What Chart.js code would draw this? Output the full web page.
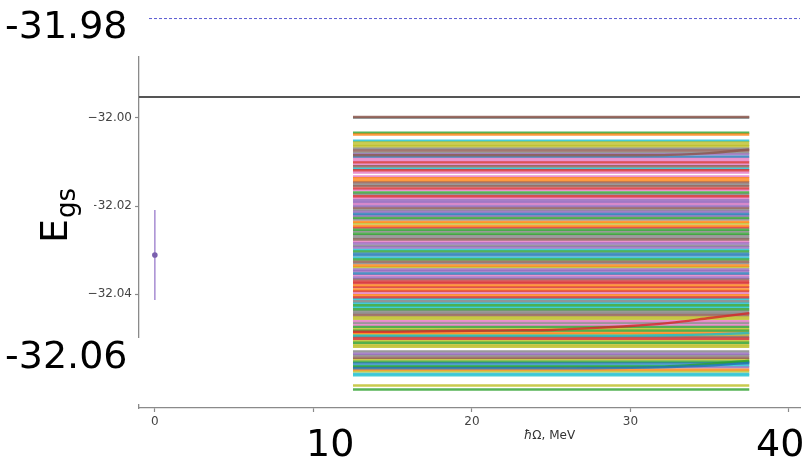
<!DOCTYPE html>
<html>
<head>
<meta charset="utf-8">
<style>
  html, body { margin: 0; padding: 0; background: #ffffff; }
  canvas { display: block; }
</style>
<script src="https://cdn.jsdelivr.net/npm/chart.js@4.4.0/dist/chart.umd.min.js"></script>
</head>
<body>
<canvas id="egs" width="804" height="463"></canvas>
<script>
// Oscillator energies (MeV) at which the ground-state energy was computed
const hbarOmega = [12.5, 15, 17.5, 20, 22.5, 25, 27.5, 30, 32.5, 35, 37.5];

// Converged E_gs values (MeV), grouped by the colour slot each curve was drawn in
const levelsC0 = [-32.0088, -32.0218, -32.0308, -32.0312, -32.0353, -32.0557];
const levelsC1 = [-32.0038, -32.0137, -32.0142, -32.0236, -32.0245, -32.0335, -32.0380, -32.0389, -32.0402, -32.0488, -32.0571];
const levelsC2 = [-32.0034, -32.0169, -32.0227, -32.0254, -32.0263, -32.0303, -32.0321, -32.0425, -32.0434, -32.0474, -32.0483, -32.0510, -32.0553, -32.0616];
const levelsC3 = [-32.0101, -32.0119, -32.0160, -32.0178, -32.0249, -32.0371, -32.0375, -32.0384, -32.0393, -32.0407, -32.0501];
const levelsC4 = [-32.0083, -32.0187, -32.0191, -32.0200, -32.0213, -32.0222, -32.0285, -32.0294, -32.0344, -32.0348, -32.0362, -32.0535, -32.0566];
const levelsC5 = [-31.9998, -32.0074, -32.0110, -32.0146, -32.0155, -32.0204, -32.0276, -32.0326, -32.0366, -32.0447, -32.0497, -32.0544];
const levelsC6 = [-32.0092, -32.0097, -32.0106, -32.0124, -32.0133, -32.0164, -32.0182, -32.0195, -32.0281, -32.0357, -32.0398, -32.0461, -32.0470];
const levelsC7 = [-32.0000, -32.0070, -32.0079, -32.0151, -32.0173, -32.0209, -32.0231, -32.0258, -32.0267, -32.0272, -32.0290, -32.0330, -32.0416, -32.0438, -32.0443, -32.0465, -32.0530, -32.0539];
const levelsC8 = [-32.0056, -32.0061, -32.0065, -32.0240, -32.0339, -32.0452, -32.0456, -32.0479, -32.0492, -32.0506, -32.0515, -32.0519, -32.0548, -32.0575, -32.0607];
const levelsC9 = [-32.0052, -32.0115, -32.0299, -32.0317, -32.0411, -32.0420, -32.0429, -32.0562, -32.0580, -32.0584];

// Curves that drift at large hbarOmega, one value per hbarOmega entry
const driftC5 = [-32.0085, -32.0085, -32.0085, -32.0085, -32.0085, -32.0085, -32.0085, -32.0085, -32.0084, -32.0080, -32.0072];
const driftC3 = [-32.0485, -32.0485, -32.0484, -32.0483, -32.0482, -32.0481, -32.0477, -32.0472, -32.0465, -32.0454, -32.0443];
const driftC0 = [-32.0568, -32.0568, -32.0568, -32.0568, -32.0568, -32.0568, -32.0568, -32.0567, -32.0565, -32.0562, -32.0555];
const driftC2 = [-32.0564, -32.0564, -32.0564, -32.0564, -32.0564, -32.0564, -32.0564, -32.0564, -32.0563, -32.0558, -32.0551];
const driftC9 = [-32.0494, -32.0494, -32.0494, -32.0494, -32.0494, -32.0494, -32.0494, -32.0494, -32.0493, -32.0491, -32.0488];

// Estimate at hbarOmega = 0 with its uncertainty
const refEnergy = -32.0311;
const refError = 0.0102;

// Horizontal reference energies (MeV)
const limitEnergy = -31.9953;   // solid line
const dashedEnergy = -31.9775;  // dashed line

// Axis ranges and ticks
const xMin = -1.0, xMax = 40.7;
const yMin = -32.0658, yMax = -31.9742;
const xTicks = [0, 10, 20, 30, 40];
const yTicks = [-32.06, -32.04, -32.02, -32.00];

// matplotlib "tab10" colour cycle
const tab10 = ['#1f77b4', '#ff7f0e', '#2ca02c', '#d62728', '#9467bd',
               '#8c564b', '#e377c2', '#7f7f7f', '#bcbd22', '#17becf'];

function withAlpha(hex, a) {
  const n = parseInt(hex.slice(1), 16);
  return `rgba(${(n >> 16) & 255},${(n >> 8) & 255},${n & 255},${a})`;
}

const lineAlpha = 0.8;
const lineWidth = 2.4;
const datasets = [];

// solid and dashed reference lines
datasets.push({
  data: [{ x: xMin, y: limitEnergy }, { x: xMax, y: limitEnergy }],
  showLine: true, borderColor: '#555555', borderWidth: 2, pointRadius: 0
});
datasets.push({
  data: [{ x: xMin, y: dashedEnergy }, { x: xMax, y: dashedEnergy }],
  showLine: true, borderColor: '#5a5ad2', borderWidth: 1, borderDash: [3, 2], pointRadius: 0
});

// error bar and marker at hbarOmega = 0
datasets.push({
  data: [{ x: 0, y: refEnergy }],
  showLine: false, pointRadius: 2.8, pointBackgroundColor: '#7a5fae', pointBorderWidth: 0
});
datasets.push({
  data: [{ x: 0, y: refEnergy - refError }, { x: 0, y: refEnergy + refError }],
  showLine: true, borderColor: '#a78cd2', borderWidth: 1.5, pointRadius: 0
});

// drifting curves
[[driftC5, 5], [driftC3, 3], [driftC0, 0], [driftC2, 2], [driftC9, 9]].forEach(([vals, c]) => {
  datasets.push({
    data: hbarOmega.map((h, i) => ({ x: h, y: vals[i] })),
    showLine: true, tension: 0.3, borderColor: withAlpha(tab10[c], 0.8),
    borderWidth: lineWidth, pointRadius: 0
  });
});

// flat levels across the hbarOmega range
const levelGroups = [levelsC0, levelsC1, levelsC2, levelsC3, levelsC4,
                     levelsC5, levelsC6, levelsC7, levelsC8, levelsC9];
const hFirst = hbarOmega[0], hLast = hbarOmega[hbarOmega.length - 1];
levelGroups.forEach((group, c) => {
  group.forEach(E => {
    datasets.push({
      data: [{ x: hFirst, y: E }, { x: hLast, y: E }],
      showLine: true, borderColor: withAlpha(tab10[c], lineAlpha),
      borderWidth: lineWidth, borderCapStyle: 'butt', pointRadius: 0
    });
  });
});

// large labels laid over the plot on white patches
const slideLabels = {
  id: 'slideLabels',
  afterDraw(chart) {
    const ctx = chart.ctx;
    const xs = chart.scales.x;
    ctx.save();
    ctx.fillStyle = '#ffffff';
    ctx.fillRect(0, 0, 147, 56);
    ctx.fillRect(0, 338, 141, 66);
    ctx.fillRect(22, 182, 72, 72);
    ctx.fillRect(298, 413, 64, 50);
    ctx.fillRect(748, 413, 56, 50);

    ctx.fillStyle = '#000000';
    ctx.textBaseline = 'alphabetic';
    ctx.textAlign = 'left';
    ctx.font = '38px "DejaVu Sans"';
    ctx.fillText('-31.98', 5, 38);
    ctx.fillText('-32.06', 5, 368);
    ctx.fillText('10', 306, 456);
    ctx.fillText('40', 756, 456);

    // x axis title: italic hbar followed by upright text
    ctx.fillStyle = '#333333';
    const hbar = 'ħ';
    const rest = 'Ω, MeV';
    ctx.font = 'italic 12px "DejaVu Sans"';
    const w1 = ctx.measureText(hbar).width;
    ctx.font = '12px "DejaVu Sans"';
    const w2 = ctx.measureText(rest).width;
    const cx = xs.getPixelForValue(24.9);
    const startX = cx - (w1 + w2) / 2;
    ctx.font = 'italic 12px "DejaVu Sans"';
    ctx.fillText(hbar, startX, 439);
    ctx.font = '12px "DejaVu Sans"';
    ctx.fillText(rest, startX + w1, 439);

    // y axis title E_gs, rotated
    ctx.fillStyle = '#000000';
    ctx.translate(67, 243);
    ctx.rotate(-Math.PI / 2);
    ctx.font = '38px "DejaVu Sans"';
    ctx.fillText('E', 0, 0);
    const eW = ctx.measureText('E').width;
    ctx.font = '26px "DejaVu Sans"';
    ctx.fillText('gs', eW + 1, 8);
    ctx.restore();
  }
};

Chart.defaults.font.family = '"DejaVu Sans", sans-serif';

new Chart(document.getElementById('egs'), {
  type: 'scatter',
  data: { datasets },
  options: {
    responsive: false,
    animation: false,
    devicePixelRatio: 1,
    events: [],
    layout: { padding: 0 },
    plugins: { legend: { display: false }, tooltip: { enabled: false } },
    scales: {
      x: {
        type: 'linear', min: xMin, max: xMax,
        afterBuildTicks: s => { s.ticks = xTicks.map(v => ({ value: v })); },
        afterFit: s => { s.height = 55; s.paddingLeft = 0; s.paddingRight = 0; },
        ticks: { font: { size: 12 }, color: '#444444', padding: 3, maxRotation: 0, autoSkip: false },
        grid: { drawOnChartArea: false, drawTicks: true, tickLength: 4, color: '#8a8a8a', tickWidth: 1.2 },
        border: { display: true, color: '#8a8a8a', width: 1.3 }
      },
      y: {
        type: 'linear', min: yMin, max: yMax,
        afterBuildTicks: s => { s.ticks = yTicks.map(v => ({ value: v })); },
        afterFit: s => { s.width = 139; s.paddingTop = 0; s.paddingBottom = 0; },
        ticks: {
          font: { size: 12 }, color: '#444444', padding: 3, autoSkip: false,
          callback: v => '\u2212' + Math.abs(v).toFixed(2)
        },
        grid: { drawOnChartArea: false, drawTicks: true, tickLength: 4, color: '#8a8a8a', tickWidth: 1.2 },
        border: { display: true, color: '#8a8a8a', width: 1.3 }
      }
    }
  },
  plugins: [slideLabels]
});
</script>
</body>
</html>
